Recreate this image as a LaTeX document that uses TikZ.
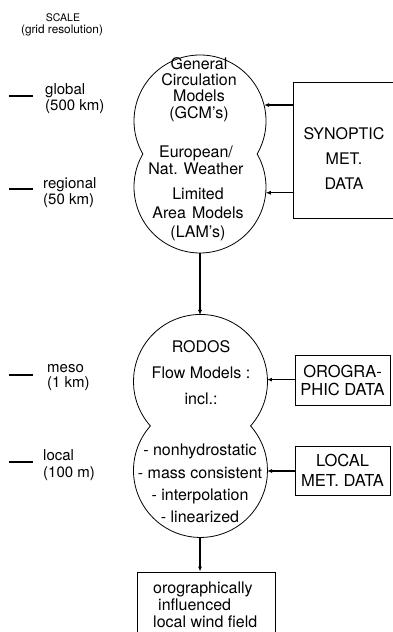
\documentclass[tikz,border=0pt]{standalone}
\usepackage{fontspec}
\setmainfont{TeX Gyre Heros}
\usetikzlibrary{arrows.meta}

\begin{document}
\begin{tikzpicture}[x=1pt,y=1pt,
  lbl/.style={inner sep=0pt, align=center},
  scl/.style={inner sep=0pt, anchor=west, align=left},
  tick/.style={line width=1.1pt},
  bubble/.style={line width=0.8pt},
  databox/.style={draw, rectangle, line width=0.8pt, inner sep=0pt, align=center},
  arr/.style={line width=1.1pt, -{Latex[length=5pt,width=4pt]}},
  hub/.style={circle, inner sep=0pt, outer sep=0pt},
]
\useasboundingbox (0,0) rectangle (392,632);

% scale column
\node[lbl, font=\fontsize{10.5}{11}\selectfont] (scalehead) at (63,614) {SCALE};
\node[lbl, font=\fontsize{11.8}{12}\selectfont] (gridres) at (62,602) {(grid resolution)};

\draw[tick] (9,536) -- (33,536);
\draw[tick] (9,443) -- (33,443);
\draw[tick] (9,257) -- (33,257);
\draw[tick] (9,170) -- (33,170);

\node[scl, font=\fontsize{15}{16}\selectfont] (sglobal) at (45,533) {global\\(500 km)};
\node[scl, font=\fontsize{15}{16}\selectfont] (sregional) at (43,439) {regional\\(50 km)};
\node[scl, font=\fontsize{15}{15}\selectfont] (smeso) at (47,254.5) {meso\\(1 km)};
\node[scl, font=\fontsize{15}{17}\selectfont] (slocal) at (43,166.5) {local\\(100 m)};

% global / limited area model bubble
\node[hub, minimum size=132pt] (gcm) at (200,511) {};
\node[hub, minimum size=132pt] (lam) at (200,445) {};
\draw[bubble] (gcm.-30) arc[start angle=-30, end angle=210, radius=66]
  arc[start angle=150, end angle=390, radius=66] -- cycle;

\node[lbl, font=\fontsize{16}{16.3}\selectfont] (gcmtext) at (199,542.5)
  {General\\Circulation\\Models\\(GCM's)};
\node[lbl, font=\fontsize{16}{17}\selectfont] (eurtext) at (196,471.5)
  {European/\\Nat. Weather};
\node[lbl, font=\fontsize{16}{19}\selectfont] (lamtext) at (198,418)
  {Limited\\Area\hspace{6pt}Models\\(LAM's)};

% RODOS flow model bubble
\node[hub, minimum size=134pt] (rup) at (200,250) {};
\node[hub, minimum size=134pt] (rlow) at (200,161) {};
\draw[bubble] (rup.-41.62) arc[start angle=-41.62, end angle=221.62, radius=67]
  arc[start angle=138.38, end angle=401.62, radius=67] -- cycle;

\node[lbl, font=\fontsize{16}{26}\selectfont] (rodtext) at (201,259)
  {RODOS\\Flow Models :\\incl.:};
\node[lbl, font=\fontsize{16}{22.3}\selectfont] (rodlist) at (200,148.5)
  {- nonhydrostatic\\- mass consistent\\- interpolation\\- linearized};

% data sources
\node[databox, minimum width=103pt, minimum height=136pt] (syn) at (344.5,482) {};
\node[lbl, font=\fontsize{16}{25}\selectfont] (syntext) at (344,473) {SYNOPTIC\\MET.\\DATA};

\node[databox, minimum width=95pt, minimum height=50pt, font=\fontsize{16.5}{18}\selectfont]
  (oro) at (342.5,252) {OROGRA-\\PHIC DATA};
\node[databox, minimum width=95pt, minimum height=49pt, font=\fontsize{16.5}{20}\selectfont]
  (loc) at (342.5,161.5) {LOCAL\\MET. DATA};

% result
\node[databox, minimum width=138pt, minimum height=62pt] (wind) at (206,29) {};
\node[lbl, align=left, anchor=west, font=\fontsize{16}{17}\selectfont] (windtext) at (153,27)
  {orographically\\\hspace{5pt}influenced\\local wind field};

% connectors
\draw[arr] (syn.west |- gcm.14) -- (gcm.14);
\draw[arr] (syn.west |- lam.-5) -- (lam.-5);
\draw[arr] (lam.south) -- (rup.north);
\draw[arr] (oro.west |- rup.2) -- (rup.2);
\draw[arr] (loc.west |- rlow.east) -- (rlow.east);
\draw[arr] (rlow.south) -- (rlow.south |- wind.north);
\end{tikzpicture}
\end{document}
